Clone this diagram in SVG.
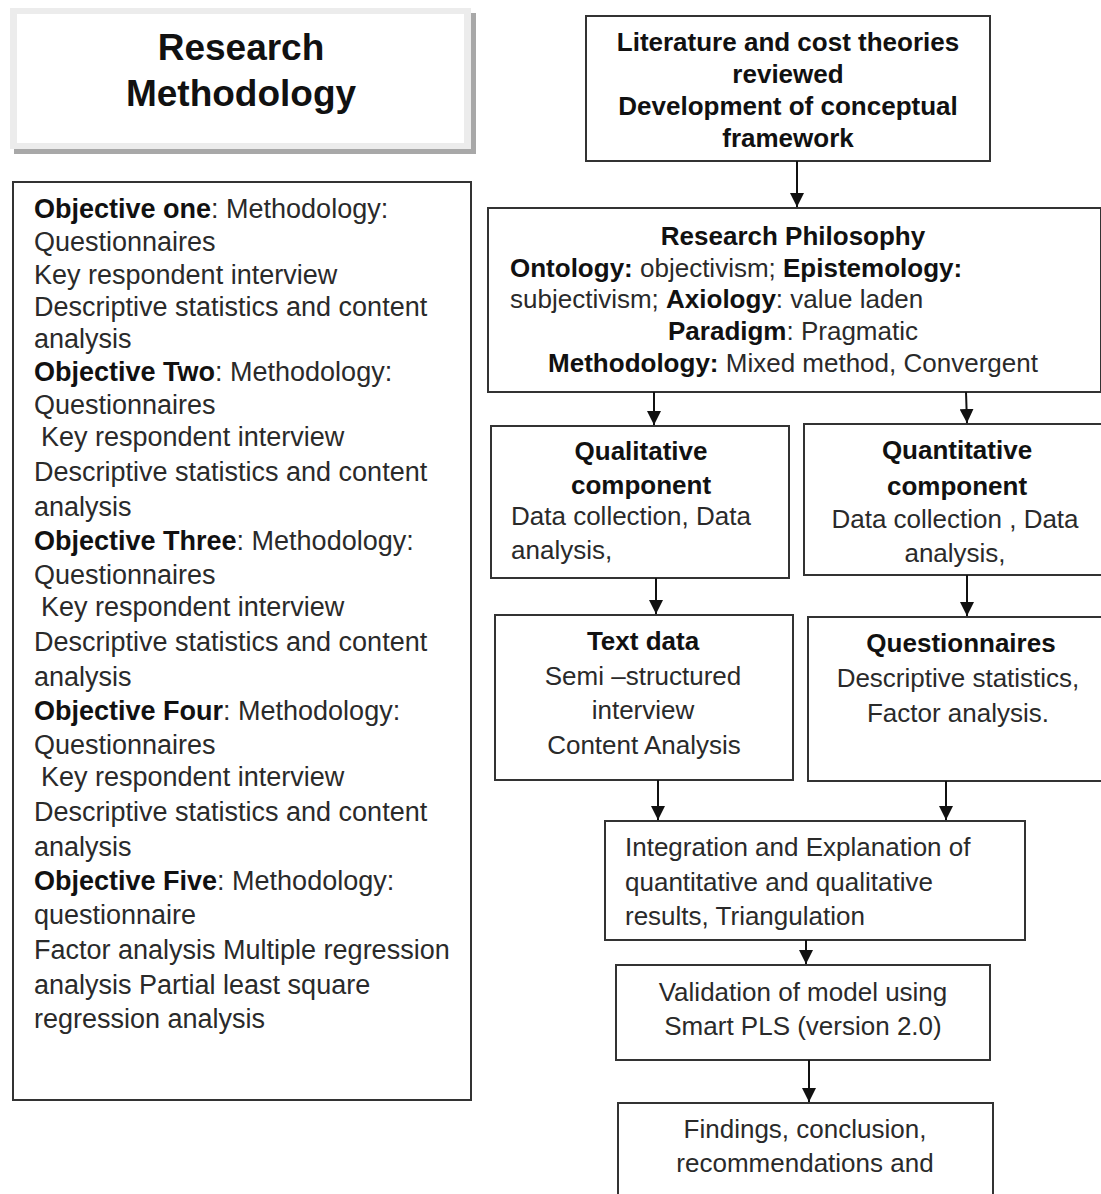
<svg xmlns="http://www.w3.org/2000/svg" width="1101" height="1194" viewBox="0 0 1101 1194">
<defs>
<marker id="ah" viewBox="0 0 14 14" refX="14" refY="7" markerWidth="14" markerHeight="14" markerUnits="userSpaceOnUse" orient="auto">
<path d="M0,0 L14,7 L0,14 Z" fill="#111"/>
</marker>
<style>
.box{fill:#fff;stroke:#333;stroke-width:2}
text{font-family:"Liberation Sans",Arial,sans-serif;font-size:26px;fill:#2a2a2a}
.l{font-size:27px}
.b{font-weight:bold;fill:#111}
.c{text-anchor:middle}
.t{font-size:37px;font-weight:bold;fill:#111;text-anchor:middle}
.con{stroke:#111;stroke-width:2;fill:none;marker-end:url(#ah)}
</style>
</defs>
<rect width="1101" height="1194" fill="#fff"/>

<g id="title">
<rect x="14" y="13" width="462" height="141" fill="#a8a8a8"/>
<rect x="10" y="8" width="461" height="141" fill="#ececec"/>
<rect x="17" y="14" width="447" height="129" fill="#fff"/>
<text class="t" x="241" y="60">Research</text>
<text class="t" x="241" y="106">Methodology</text>
</g>

<g id="objectives">
<rect class="box" x="13" y="182" width="458" height="918"/>
<text class="l" x="34" y="218"><tspan class="b">Objective one</tspan>: Methodology:</text>
<text class="l" x="34" y="251">Questionnaires</text>
<text class="l" x="34" y="284">Key respondent interview</text>
<text class="l" x="34" y="316">Descriptive statistics and content</text>
<text class="l" x="34" y="348">analysis</text>
<text class="l" x="34" y="381"><tspan class="b">Objective Two</tspan>: Methodology:</text>
<text class="l" x="34" y="414">Questionnaires</text>
<text class="l" x="41" y="446">Key respondent interview</text>
<text class="l" x="34" y="481">Descriptive statistics and content</text>
<text class="l" x="34" y="516">analysis</text>
<text class="l" x="34" y="550"><tspan class="b">Objective Three</tspan>: Methodology:</text>
<text class="l" x="34" y="584">Questionnaires</text>
<text class="l" x="41" y="616">Key respondent interview</text>
<text class="l" x="34" y="651">Descriptive statistics and content</text>
<text class="l" x="34" y="686">analysis</text>
<text class="l" x="34" y="720"><tspan class="b">Objective Four</tspan>: Methodology:</text>
<text class="l" x="34" y="754">Questionnaires</text>
<text class="l" x="41" y="786">Key respondent interview</text>
<text class="l" x="34" y="821">Descriptive statistics and content</text>
<text class="l" x="34" y="856">analysis</text>
<text class="l" x="34" y="890"><tspan class="b">Objective Five</tspan>: Methodology:</text>
<text class="l" x="34" y="924">questionnaire</text>
<text class="l" x="34" y="959">Factor analysis Multiple regression</text>
<text class="l" x="34" y="994">analysis Partial least square</text>
<text class="l" x="34" y="1028">regression analysis</text>
</g>

<g id="literature">
<rect class="box" x="586" y="16" width="404" height="145"/>
<text class="b c" x="788" y="51">Literature and cost theories</text>
<text class="b c" x="788" y="83">reviewed</text>
<text class="b c" x="788" y="115">Development of conceptual</text>
<text class="b c" x="788" y="147">framework</text>
</g>

<g id="philosophy">
<rect class="box" x="488" y="208" width="613" height="184"/>
<text class="b c" x="793" y="245">Research Philosophy</text>
<text x="510" y="277"><tspan class="b">Ontology:</tspan> objectivism; <tspan class="b">Epistemology:</tspan></text>
<text x="510" y="308">subjectivism; <tspan class="b">Axiology</tspan>: value laden</text>
<text class="c" x="793" y="340"><tspan class="b">Paradigm</tspan>: Pragmatic</text>
<text class="c" x="793" y="372"><tspan class="b">Methodology:</tspan> Mixed method, Convergent</text>
</g>

<g id="qualitative">
<rect class="box" x="491" y="426" width="298" height="152"/>
<text class="b c" x="641" y="460">Qualitative</text>
<text class="b c" x="641" y="494">component</text>
<text x="511" y="525">Data collection, Data</text>
<text x="511" y="559">analysis,</text>
</g>

<g id="quantitative">
<rect class="box" x="804" y="424" width="300" height="151"/>
<text class="b c" x="957" y="459">Quantitative</text>
<text class="b c" x="957" y="495">component</text>
<text class="c" x="955" y="528">Data collection , Data</text>
<text class="c" x="955" y="562">analysis,</text>
</g>

<g id="textdata">
<rect class="box" x="495" y="615" width="298" height="165"/>
<text class="b c" x="643" y="650">Text data</text>
<text class="c" x="643" y="685">Semi –structured</text>
<text class="c" x="643" y="719">interview</text>
<text class="c" x="644" y="754">Content Analysis</text>
</g>

<g id="questionnaires">
<rect class="box" x="808" y="617" width="296" height="164"/>
<text class="b c" x="961" y="652">Questionnaires</text>
<text class="c" x="958" y="687">Descriptive statistics,</text>
<text class="c" x="958" y="722">Factor analysis.</text>
</g>

<g id="integration">
<rect class="box" x="605" y="821" width="420" height="119"/>
<text x="625" y="856">Integration and Explanation of</text>
<text x="625" y="891">quantitative and qualitative</text>
<text x="625" y="925">results, Triangulation</text>
</g>

<g id="validation">
<rect class="box" x="616" y="965" width="374" height="95"/>
<text class="c" x="803" y="1001">Validation of model using</text>
<text class="c" x="803" y="1035">Smart PLS (version 2.0)</text>
</g>

<g id="findings">
<rect class="box" x="618" y="1103" width="375" height="100"/>
<text class="c" x="805" y="1138">Findings, conclusion,</text>
<text class="c" x="805" y="1172">recommendations and</text>
</g>

<g id="connectors">
<line class="con" x1="797" y1="161" x2="797" y2="207"/>
<line class="con" x1="654" y1="392" x2="654" y2="425"/>
<line class="con" x1="966" y1="392" x2="967" y2="423"/>
<line class="con" x1="656" y1="578" x2="656" y2="614"/>
<line class="con" x1="967" y1="575" x2="967" y2="616"/>
<line class="con" x1="658" y1="780" x2="658" y2="820"/>
<line class="con" x1="946" y1="781" x2="946" y2="820"/>
<line class="con" x1="806" y1="940" x2="806" y2="964"/>
<line class="con" x1="809" y1="1060" x2="809" y2="1102"/>
</g>
</svg>
